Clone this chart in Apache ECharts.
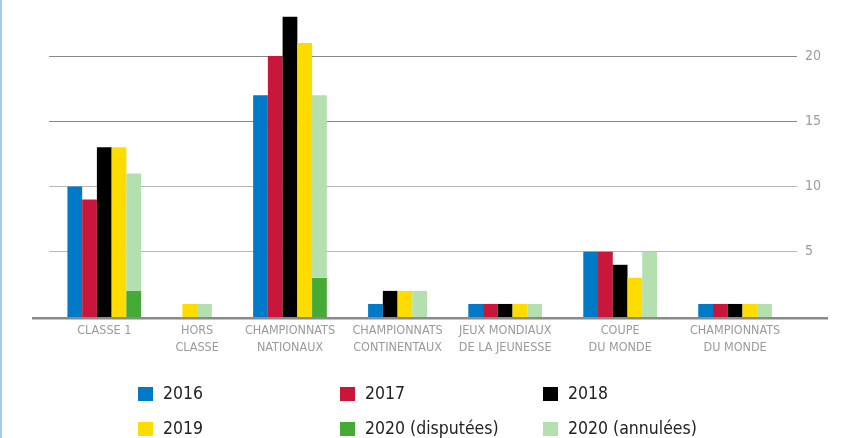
<!DOCTYPE html>
<html><head><meta charset="utf-8">
<script src="https://cdn.jsdelivr.net/npm/echarts@6/dist/echarts.min.js"></script>
<style>
html,body{margin:0;padding:0;background:#fff;}
#c{width:843px;height:438px;}
#edge{position:absolute;left:0;top:0;width:2px;height:438px;background:#a3cfee;z-index:5;}
</style>
</head><body><div id="edge"></div><div id="c"></div>
<script>
// ---- data ----
const categories = ['CLASSE 1', 'HORS\nCLASSE', 'CHAMPIONNATS\nNATIONAUX', 'CHAMPIONNATS\nCONTINENTAUX', 'JEUX MONDIAUX\nDE LA JEUNESSE', 'COUPE\nDU MONDE', 'CHAMPIONNATS\nDU MONDE'];
const seriesNames = ['2016', '2017', '2018', '2019', '2020 (disputées)', '2020 (annulées)'];
const v2016 = [10, 0, 17, 1, 1, 5, 1];
const v2017 = [9, 0, 20, 0, 1, 5, 1];
const v2018 = [13, 0, 23, 2, 1, 4, 1];
const v2019 = [13, 1, 21, 2, 1, 3, 1];
const v2020disputees = [2, 0, 3, 0, 0, 0, 0];
const v2020annulees = [9, 1, 14, 2, 1, 5, 1];
const yTicks = [5, 10, 15, 20];

// ---- styling / layout ----
const colors = ['#0079c6', '#c8173a', '#000000', '#ffdc00', '#45ab36', '#b4dfae'];
const FONT = 'DejaVu Sans Condensed';
const LEAD = 1.25, GAP = 2.8, TRAIL = 1.7;

const defs = [
  {vals: v2016, col: 0},
  {vals: v2017, col: 1},
  {vals: v2018, col: 2},
  {vals: v2019, col: 3},
  {vals: v2020disputees, col: 4, base: null},
  {vals: v2020annulees, col: 4, base: v2020disputees}
];

// columns present per category (bars are packed, missing years take no room)
const present = categories.map((c, i) => {
  const cols = [];
  for (let col = 0; col < 5; col++) {
    const tot = defs.filter(d => d.col === col).reduce((s, d) => s + d.vals[i], 0);
    if (tot > 0) cols.push(col);
  }
  return cols;
});
const starts = [], centers = [];
let pos = 0;
present.forEach((cols, i) => {
  starts.push(pos);
  centers.push(pos + cols.length / 2);
  pos += cols.length + (i < present.length - 1 ? GAP : 0);
});
const xMin = -LEAD, xMax = pos + TRAIL;

const chart = echarts.init(document.getElementById('c'), null, {renderer: 'canvas'});

const series = defs.map((d, k) => ({
  name: seriesNames[k],
  type: 'custom',
  itemStyle: {color: colors[k]},
  data: d.vals.map((v, i) => [centers[i], v, i]),
  encode: {x: 0, y: 1},
  renderItem: function (params, api) {
    const i = api.value(2);
    const v = api.value(1);
    if (!v) return null;
    const colPos = present[i].indexOf(d.col);
    const x0 = starts[i] + colPos;
    const b = d.base ? d.base[i] : 0;
    const p0 = api.coord([x0, b]);
    const p1 = api.coord([x0 + 1, b + v]);
    return {type: 'rect', shape: {x: p0[0], y: p1[1], width: p1[0] - p0[0], height: p0[1] - p1[1]}, style: {fill: colors[k]}};
  }
}));

const legendPos = [[138, 385], [340, 385], [543, 385], [138, 420], [340, 420], [543, 420]];
const legends = seriesNames.map((n, k) => ({
  data: [n], left: legendPos[k][0], top: legendPos[k][1], padding: 0,
  itemWidth: 15, itemHeight: 14, icon: 'rect', selectedMode: false,
  textStyle: {fontFamily: FONT, fontSize: 17.5, color: '#222', lineHeight: 14, padding: [0, 0, 0, 5]}
}));

chart.setOption({
  animation: false,
  backgroundColor: '#fff',
  grid: {left: 49, right: 46, top: 0, bottom: 121, containLabel: false},
  legend: legends,
  xAxis: {
    type: 'value', min: xMin, max: xMax,
    axisLine: {show: false}, axisTick: {show: false}, splitLine: {show: false},
    axisLabel: {
      customValues: centers,
      margin: 5,
      fontFamily: FONT, fontSize: 12.5, color: '#9a9a9a', lineHeight: 17,
      formatter: function (v) {
        let best = 0;
        centers.forEach((c, i) => { if (Math.abs(c - v) < Math.abs(centers[best] - v)) best = i; });
        return categories[best];
      }
    }
  },
  yAxis: {
    type: 'value', position: 'right', min: 0, max: 24.29, interval: 5,
    axisLine: {show: false}, axisTick: {show: false},
    splitLine: {lineStyle: {width: 1.2, color: ['#b8b8b8', '#b8b8b8', '#b8b8b8', '#888888', '#888888', 'rgba(0,0,0,0)']}},
    axisLabel: {
      margin: 8, fontFamily: FONT, fontSize: 14, color: '#9c9c9c',
      formatter: function (v) { return yTicks.indexOf(v) >= 0 ? String(v) : ''; }
    }
  },
  series: series
});

const y0 = chart.convertToPixel({yAxisIndex: 0}, 0);
chart.setOption({
  graphic: [{type: 'rect', z: 100, shape: {x: 32, y: y0, width: 796, height: 2.5}, style: {fill: '#8a8a8a'}}]
});
</script></body></html>
